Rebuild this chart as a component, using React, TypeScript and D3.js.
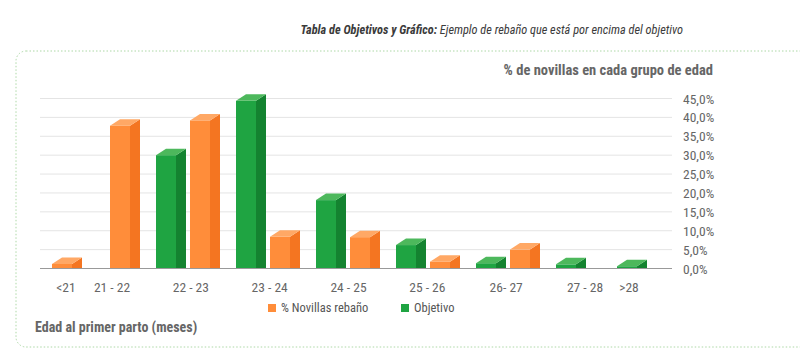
import React from "react";
import * as d3 from "d3";

const categories = ["<21", "21 - 22", "22 - 23", "23 - 24", "24 - 25", "25 - 26", "26- 27", "27 - 28", ">28"];
const rebano = [1.2, 37.8, 39.2, 8.4, 8.3, 1.8, 5.0, 0, 0];
const objetivo = [0, 0, 30.0, 44.4, 18.1, 6.2, 1.4, 1.1, 0.6];
const yTicks = [0, 5, 10, 15, 20, 25, 30, 35, 40, 45];
const seriesNames = ["% Novillas rebaño", "Objetivo"];

const W = 800;
const H = 349;
const font = "'Liberation Sans Narrow', 'Roboto Condensed', Roboto, 'Open Sans', sans-serif";

const colors = {
  orange: { front: "#FF8D3A", side: "#F47521", top: "#FFA865" },
  green: { front: "#1FA442", side: "#148330", top: "#4DB85C" },
};

export default function App() {
  const idx = categories.map((_, i) => i);
  const x = d3.scaleLinear().domain([0, 1, 7, 8]).range([50, 108, 588, 649]);
  const xLabel = d3.scaleLinear().domain([0, 1, 7, 8]).range([66, 112, 585, 629]);
  const y = d3.scaleLinear().domain([0, 45]).range([268.5, 98.5]);
  const barW = 20;
  const dx = 10;
  const dy = 6.5;
  const fmt = (v: number) => d3.format(".1f")(v).replace(".", ",") + "%";

  const bar = (x0: number, v: number, c: { front: string; side: string; top: string }, key: string) => {
    if (v <= 0) return null;
    const top = y(v);
    const base = y(0);
    return (
      <g key={key}>
        <rect x={x0} y={top} width={barW} height={base - top} fill={c.front} />
        <polygon points={`${x0 + barW},${top} ${x0 + barW + dx},${top - dy} ${x0 + barW + dx},${base} ${x0 + barW},${base}`} fill={c.side} />
        <polygon points={`${x0},${top} ${x0 + dx},${top - dy} ${x0 + barW + dx},${top - dy} ${x0 + barW},${top}`} fill={c.top} />
      </g>
    );
  };

  return (
    <svg width={W} height={H} style={{ position: "absolute", left: 0, top: 0 }}>
      <rect x={0} y={0} width={W} height={H} fill="#fff" />
      <rect x={16} y={51} width={800} height={296} rx={10} ry={10} fill="none" stroke="#ADD8A6" strokeWidth={1} strokeDasharray="1.5 2" />
      <text x={683} y={34} textAnchor="end" fontFamily={font} fontSize={12.3} fontStyle="italic" fill="#3b3b3b">
        <tspan fontWeight="bold">Tabla de Objetivos y Gráfico:</tspan>
        <tspan> Ejemplo de rebaño que está por encima del objetivo</tspan>
      </text>
      <text x={713} y={75} textAnchor="end" fontFamily={font} fontSize={14.5} fontWeight="bold" fill="#666">
        % de novillas en cada grupo de edad
      </text>
      {yTicks.map((t) => (
        <g key={t}>
          {t > 0 && <line x1={40} x2={672} y1={y(t)} y2={y(t)} stroke="#E4E4E4" strokeWidth={1} />}
          <text x={683} y={y(t) + 5} fontFamily={font} fontSize={13.5} fill="#666">
            {fmt(t)}
          </text>
        </g>
      ))}
      {idx.map((i) => (
        <g key={"b" + i}>
          {bar(x(i) - 32, objetivo[i], colors.green, "g")}
          {bar(x(i) + 2, rebano[i], colors.orange, "o")}
        </g>
      ))}
      <line x1={40} x2={672} y1={y(0)} y2={y(0)} stroke="#999" strokeWidth={1.2} />
      {idx.map((i) => (
        <text key={"l" + i} x={xLabel(i)} y={292} textAnchor="middle" fontFamily={font} fontSize={13.5} fill="#666">
          {categories[i]}
        </text>
      ))}
      <rect x={268} y={304} width={8} height={8} fill={colors.orange.front} />
      <text x={281} y={312} fontFamily={font} fontSize={12.5} fill="#555">{seriesNames[0]}</text>
      <rect x={401} y={304} width={8} height={8} fill={colors.green.front} />
      <text x={414} y={312} fontFamily={font} fontSize={12.5} fill="#555">{seriesNames[1]}</text>
      <text x={35} y={332} fontFamily={font} fontSize={14} fontWeight="bold" fill="#666">
        Edad al primer parto (meses)
      </text>
    </svg>
  );
}
